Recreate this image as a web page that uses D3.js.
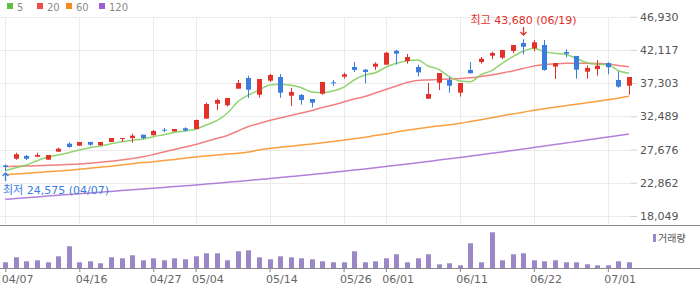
<!DOCTYPE html>
<html>
<head>
<meta charset="utf-8">
<script src="https://cdn.jsdelivr.net/npm/d3@7"></script>
<style>
body { margin: 0; background: #fff; }
svg { display: block; }
text { font-family: "DejaVu Sans", "Noto Sans CJK KR", sans-serif; }
</style>
</head>
<body>
<svg width="700" height="289"></svg>
<script>
const dates = ["04/07","04/08","04/09","04/10","04/13","04/14","04/15","04/16","04/17","04/20",
  "04/21","04/22","04/23","04/24","04/27","04/28","04/29","04/30","05/04","05/06",
  "05/07","05/08","05/11","05/12","05/13","05/14","05/15","05/18","05/19","05/20",
  "05/21","05/22","05/26","05/27","05/28","05/29","06/01","06/02","06/03","06/04",
  "06/05","06/08","06/09","06/11","06/12","06/15","06/16","06/17","06/18","06/19",
  "06/22","06/23","06/24","06/25","06/26","06/29","06/30","07/01","07/02","07/03"];

const opens = [25370,26350,26750,26640,26210,27370,28530,28240,28780,28300,
  28780,29210,29350,29830,29750,30560,30300,30760,30660,32150,
  34320,34090,36500,38050,35630,37660,38190,35480,35590,35000,
  35770,37420,38240,39640,39250,39690,39980,42000,40510,39640,
  35050,37370,37760,35920,39210,40370,41280,40990,41960,43120,
  42350,42830,39690,41820,41240,38960,39350,40220,37760,36930];
const highs = [25510,27220,26890,27220,26890,27950,28730,28780,28780,28780,
  29350,29350,29980,29830,30510,30800,30660,30900,32030,34470,
  35050,35150,37760,38380,37900,38630,38630,36640,35730,35000,
  37470,37760,38820,40370,39350,40320,41820,42110,41530,39980,
  37320,38770,38190,37320,40370,41090,41860,42110,42830,43680,
  43550,43550,40220,42210,41240,39890,40660,40320,39020,38190];
const lows = [24575,26200,26170,26640,26210,27370,27950,28240,28200,28200,
  28780,28780,28670,29170,29750,30220,30300,30300,30580,32150,
  33410,33890,36500,35150,35190,37470,35190,33990,34180,33800,
  35630,36890,37950,38920,37280,39210,39980,39980,40120,38290,
  35050,36310,35920,35340,38730,40120,40760,40800,41630,41480,
  41920,39110,37900,41050,37950,37950,38380,38580,36640,35630];
const closes = [25150,26990,26350,26890,26890,27800,28050,28780,28380,28780,
  29350,29350,29690,29350,30370,30470,30660,30440,31960,34280,
  34860,35150,37320,36350,37900,38480,35920,36020,34860,34470,
  37470,37280,38580,39210,38920,40120,41710,41570,41090,38870,
  35730,38770,36930,37320,38730,40840,41670,42110,42830,42580,
  43220,39210,40220,41570,39250,39500,39830,39600,36790,38190];
const volumes = [57000,107000,67000,77000,57000,117000,217000,57000,67000,47000,
  107000,97000,127000,77000,97000,77000,97000,87000,117000,147000,
  147000,77000,167000,177000,107000,87000,117000,107000,97000,87000,
  67000,57000,57000,167000,57000,67000,97000,137000,57000,97000,
  137000,37000,47000,27000,247000,57000,357000,77000,137000,147000,
  77000,67000,77000,57000,57000,37000,27000,27000,67000,57000];

const ma5 = [24616,25050,25442,26065,26557,26890,27224,27615,27948,28195,
  28528,28818,29020,29209,29542,29832,30151,30368,30614,31237,
  31861,32933,34614,35584,36309,37033,37135,36990,36642,36019,
  35918,36164,36700,37758,38482,38816,39598,40178,40555,40656,
  39787,39308,38236,37613,37512,38526,39106,40178,41134,41917,
  42351,41859,41627,41482,40902,40265,40033,39975,39106,38729];
const ma20 = [25224,25253,25297,25340,25398,25442,25514,25586,25702,25833,
  25978,26166,26383,26630,26963,27325,27687,28050,28412,28847,
  29281,29716,30368,31020,31455,31890,32252,32614,32976,33339,
  33773,34136,34570,35005,35367,35874,36381,36889,37396,37686,
  37758,37830,37903,37975,38077,38265,38482,38772,39062,39424,
  39787,40004,40105,40178,40178,40178,40149,40076,39859,39685];
const ma60 = [24036,24137,24253,24355,24456,24572,24688,24818,24978,25123,
  25268,25442,25615,25789,25920,26094,26253,26427,26601,26746,
  26891,27035,27137,27325,27615,27832,28006,28166,28340,28484,
  28673,28847,29021,29238,29455,29716,29933,30223,30470,30701,
  30904,31093,31281,31484,31745,32005,32281,32571,32831,33092,
  33368,33599,33817,34034,34251,34454,34672,34889,35121,35396];
const ma120 = [20471,20587,20703,20819,20935,21051,21167,21283,21399,21500,
  21616,21732,21848,21964,22080,22196,22312,22428,22543,22674,
  22804,22935,23065,23196,23326,23471,23616,23761,23906,24065,
  24224,24384,24543,24702,24876,25050,25224,25398,25586,25775,
  25963,26151,26340,26528,26731,26934,27137,27340,27543,27746,
  27963,28180,28397,28615,28832,29050,29267,29484,29702,29919];

const priceTicks = [18049, 22862, 27676, 32489, 37303, 42117, 46930];
const dateTicks = ["04/07","04/16","04/27","05/04","05/14","05/26","06/01","06/11","06/22","07/01"];
const maNames = ["5", "20", "60", "120"];
const maColors = ["#5fbf3f", "#ee4b4b", "#f58b1f", "#9b5fd0"];
const lineColors = ["#86cf62", "#f07272", "#f7952c", "#a873d6"];

const UP = "#e2302b", DOWN = "#3a7ddf", VOL = "#9b86c6";
const fmt = d3.format(",");

const svg = d3.select("svg");
const x = d3.scalePoint().domain(dates).range([5.3, 629]);
const y = d3.scaleLinear().domain([18049, 46930]).range([216, 16.7]);
const yv = d3.scaleLinear().domain([0, 420000]).range([268, 226]);

// grid
svg.append("g").selectAll("line").data(priceTicks).join("line")
  .attr("x1", 0).attr("x2", 631)
  .attr("y1", d => Math.round(y(d)) + 0.5).attr("y2", d => Math.round(y(d)) + 0.5)
  .attr("stroke", "#ebebeb");
svg.append("g").selectAll("line").data(dateTicks).join("line")
  .attr("x1", d => Math.round(x(d)) + 0.5).attr("x2", d => Math.round(x(d)) + 0.5)
  .attr("y1", 17).attr("y2", 226)
  .attr("stroke", "#ebebeb");

// right axis
const yAxis = svg.append("g")
  .attr("transform", "translate(631,0)")
  .call(d3.axisRight(y).tickValues(priceTicks).tickFormat(fmt).tickSize(6).tickPadding(3));
yAxis.select(".domain").remove();
yAxis.selectAll("line").attr("stroke", "#d0d0d0");
yAxis.selectAll("text").attr("fill", "#555").style("font-size", "11px");

// moving averages, longest underneath
const maSeries = [ma5, ma20, ma60, ma120];
const line = d3.line().x((d, i) => x(dates[i])).y(d => y(d)).curve(d3.curveMonotoneX);
[3, 2, 1, 0].forEach(i => {
  svg.append("path").datum(maSeries[i])
    .attr("d", line)
    .attr("fill", "none")
    .attr("stroke", lineColors[i])
    .attr("stroke-width", 1.5)
    .attr("stroke-opacity", 0.9);
});

// candles
const idx = d3.range(dates.length);
const candles = svg.append("g").selectAll("g").data(idx).join("g");
candles.append("line")
  .attr("x1", i => Math.round(x(dates[i])) + 0.5).attr("x2", i => Math.round(x(dates[i])) + 0.5)
  .attr("y1", i => y(highs[i])).attr("y2", i => y(lows[i]))
  .attr("stroke", i => closes[i] >= opens[i] ? UP : DOWN);
candles.append("rect")
  .attr("x", i => Math.round(x(dates[i])) - 2)
  .attr("width", 5)
  .attr("y", i => y(Math.max(opens[i], closes[i])))
  .attr("height", i => Math.max(1, y(Math.min(opens[i], closes[i])) - y(Math.max(opens[i], closes[i]))))
  .attr("fill", i => closes[i] >= opens[i] ? UP : DOWN);

// high / low markers
const iMax = d3.maxIndex(highs), iMin = d3.minIndex(lows);
const xMax = Math.round(x(dates[iMax])) + 0.5, xMin = Math.round(x(dates[iMin])) + 0.5;
svg.append("text").attr("x", xMax).attr("y", 24).attr("text-anchor", "middle")
  .attr("fill", UP).style("font-size", "11px")
  .text(`최고 ${fmt(highs[iMax])} (${dates[iMax]})`);
svg.append("path")
  .attr("d", `M${xMax},27V35M${xMax - 3},32L${xMax},35L${xMax + 3},32`)
  .attr("fill", "none").attr("stroke", UP).attr("stroke-width", 1.3);
svg.append("text").attr("x", 3).attr("y", 194)
  .attr("fill", DOWN).style("font-size", "11px")
  .text(`최저 ${fmt(lows[iMin])} (${dates[iMin]})`);
svg.append("path")
  .attr("d", `M${xMin},173V181M${xMin - 3},176L${xMin},173L${xMin + 3},176`)
  .attr("fill", "none").attr("stroke", DOWN).attr("stroke-width", 1.3);

// legend
const legX = [7, 37, 66, 99];
maNames.forEach((n, i) => {
  svg.append("rect").attr("x", legX[i]).attr("y", 3).attr("width", 6).attr("height", 6).attr("fill", maColors[i]);
  svg.append("text").attr("x", legX[i] + 10).attr("y", 10.5).attr("fill", "#8a8a8a").style("font-size", "10px").text(n);
});

// volume panel
svg.append("line").attr("x1", 0).attr("x2", 700).attr("y1", 225.5).attr("y2", 225.5).attr("stroke", "#8a8a8a");
svg.append("g").selectAll("rect").data(idx).join("rect")
  .attr("x", i => Math.round(x(dates[i])) - 2)
  .attr("width", 5)
  .attr("y", i => yv(volumes[i]))
  .attr("height", i => yv(0) - yv(volumes[i]))
  .attr("fill", VOL);

const xAxis = svg.append("g")
  .attr("transform", "translate(0,268)")
  .call(d3.axisBottom(x).tickValues(dateTicks).tickSize(4).tickPadding(3));
xAxis.select(".domain").remove();
xAxis.selectAll("line").attr("stroke", "#888");
xAxis.selectAll("text").attr("fill", "#666").style("font-size", "11px")
  .attr("text-anchor", "start").attr("dx", -4);
svg.append("line").attr("x1", 0).attr("x2", 700).attr("y1", 268.5).attr("y2", 268.5).attr("stroke", "#888");

svg.append("rect").attr("x", 653).attr("y", 234).attr("width", 3).attr("height", 8).attr("fill", VOL);
svg.append("text").attr("x", 658).attr("y", 242).attr("fill", "#555").style("font-size", "10px").text("거래량");
</script>
</body>
</html>
